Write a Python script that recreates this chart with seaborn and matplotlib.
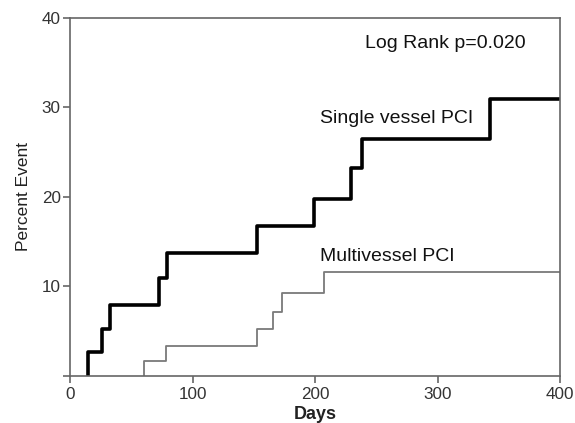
import matplotlib
matplotlib.use("Agg")
import matplotlib.pyplot as plt
import seaborn as sns
import pandas as pd

# Data
single_days = [14.5, 14.5, 26, 32, 72.5, 79, 152.5, 199, 229.5, 238, 343, 400]
single_pct = [0, 2.65, 5.25, 7.9, 10.9, 13.7, 16.8, 19.8, 23.2, 26.45, 30.9, 30.9]
multi_days = [60, 60, 78, 152, 165.5, 172.5, 207.5, 400]
multi_pct = [0, 1.7, 3.35, 5.2, 7.2, 9.3, 11.6, 11.6]
x_ticks = [0, 100, 200, 300, 400]
y_ticks = [10, 20, 30, 40]

sns.set_style("white")
plt.rcParams['font.family'] = ['Liberation Sans', 'DejaVu Sans']

df_s = pd.DataFrame({"Days": single_days, "Pct": single_pct})
df_m = pd.DataFrame({"Days": multi_days, "Pct": multi_pct})

fig = plt.figure(figsize=(5.75, 4.23), dpi=100)
ax = fig.add_axes([0.1226, 0.111, 0.8514, 0.847])

sns.lineplot(data=df_m, x="Days", y="Pct", ax=ax, estimator=None, sort=False,
             drawstyle="steps-post", color="#7a7a7a", linewidth=1.3)
sns.lineplot(data=df_s, x="Days", y="Pct", ax=ax, estimator=None, sort=False,
             drawstyle="steps-post", color="black", linewidth=2.6)

ax.set_xlim(0, 400)
ax.set_ylim(0, 40)
ax.set_xticks(x_ticks)
ax.set_yticks([0] + y_ticks)
ax.set_yticklabels([""] + [str(v) for v in y_ticks])
ax.set_xticklabels([str(v) for v in x_ticks])

for s in ax.spines.values():
    s.set_color("#666666")
    s.set_linewidth(1.2)
    s.set_visible(True)

ax.tick_params(axis="both", which="both", direction="out", length=5, width=1.2,
               color="#666666", labelsize=12.3, labelcolor="#333333",
               bottom=True, left=True)
ax.tick_params(axis="x", pad=3)
ax.tick_params(axis="y", pad=2)

ax.set_xlabel("Days", fontsize=13, fontweight="bold", color="#222222", labelpad=3)
ax.set_ylabel("Percent Event", fontsize=12.5, color="#222222",
              family=['Liberation Sans Narrow', 'Liberation Sans', 'DejaVu Sans'], labelpad=8)

ax.text(240.5, 37.1, "Log Rank p=0.020", fontsize=14, va="center", ha="left", color="#111111")
ax.text(204, 28.8, "Single vessel PCI", fontsize=14, va="center", ha="left", color="#111111")
ax.text(204, 13.3, "Multivessel PCI", fontsize=14, va="center", ha="left", color="#111111")

fig.savefig("out.png", dpi=100)
